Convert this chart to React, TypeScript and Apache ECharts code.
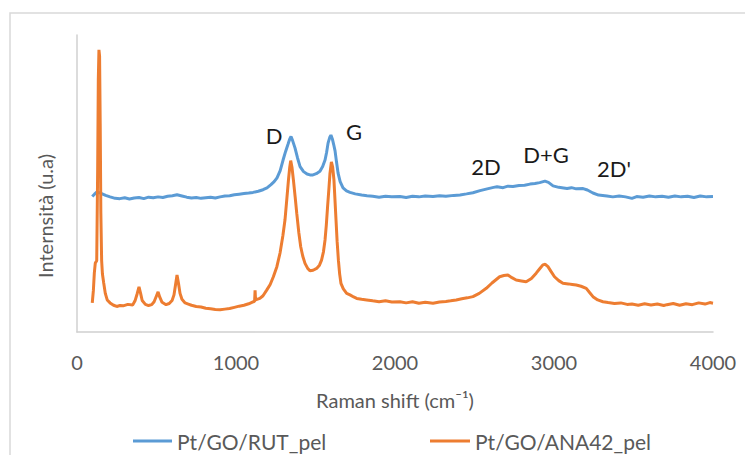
import React, { useEffect, useRef } from "react";
import * as echarts from "echarts";

const seriesNames = ["Pt/GO/RUT_pel", "Pt/GO/ANA42_pel"];
const xTicks = [0, 1000, 2000, 3000, 4000];

const rutData: [number, number][] = [
  [96,45.6],[110,46.4],[124,47.1],[140,46.9],[155,46.6],[180,46.0],[208,45.5],[240,45.0],[270,44.9],[300,45.2],
  [330,44.8],[360,45.1],[390,45.3],[420,44.9],[450,45.4],[480,45.2],[510,45.5],[540,45.3],[570,45.7],[600,45.9],
  [629,46.2],[660,45.8],[690,45.4],[720,45.1],[750,45.3],[780,45.0],[810,45.2],[840,45.4],[870,45.1],[900,45.5],
  [930,45.8],[960,45.9],[990,46.2],[1020,46.4],[1050,46.6],[1080,46.8],[1107,47.0],[1140,47.4],[1170,47.9],[1195,48.5],
  [1220,49.6],[1240,50.6],[1258,51.9],[1278,54.3],[1296,57.9],[1312,60.8],[1327,63.2],[1338,65.0],[1346,65.8],[1355,64.6],
  [1371,62.0],[1387,58.6],[1403,55.7],[1425,54.0],[1447,53.2],[1465,52.9],[1484,52.9],[1505,53.3],[1528,54.1],[1545,55.7],
  [1560,57.9],[1570,60.5],[1579,63.6],[1590,65.6],[1597,66.3],[1606,65.0],[1614,63.2],[1623,61.0],[1632,57.3],[1642,53.5],
  [1655,50.6],[1673,48.5],[1695,47.5],[1717,47.0],[1750,46.5],[1790,46.1],[1824,45.9],[1860,45.7],[1900,45.4],[1940,45.7],
  [1980,45.5],[2031,45.6],[2070,45.3],[2110,45.7],[2150,45.5],[2190,45.8],[2239,45.6],[2280,45.9],[2320,45.7],[2370,46.0],
  [2409,46.1],[2450,46.5],[2490,46.9],[2535,47.6],[2580,48.2],[2620,48.7],[2642,48.9],[2680,48.6],[2710,49.1],[2742,49.0],
  [2780,49.3],[2815,49.4],[2849,49.8],[2880,50.0],[2910,50.3],[2943,50.8],[2965,50.4],[2994,49.2],[3030,48.7],[3060,48.5],
  [3082,48.3],[3110,48.6],[3140,48.2],[3183,48.3],[3210,47.8],[3245,46.8],[3280,46.1],[3333,45.8],[3370,45.5],[3410,45.8],
  [3450,45.5],[3490,45.0],[3520,45.6],[3560,45.4],[3600,45.8],[3640,45.5],[3680,45.7],[3720,45.4],[3760,45.8],[3800,45.5],
  [3840,45.7],[3880,45.3],[3920,45.8],[3960,45.5],[4000,45.6]
];

const anaData: [number, number][] = [
  [96,9.8],[103,14.0],[109,19.9],[115,23.2],[124,24.0],[130,55],[134,85],[138,95],[142,93],[146,70],
  [150,40],[155,24],[160,19.5],[168,16.5],[178,13.0],[190,10.8],[208,9.8],[230,9.0],[250,8.6],[270,8.9],
  [290,8.8],[320,9.3],[350,9.1],[365,10.5],[378,12.8],[390,15.2],[400,13.0],[410,10.6],[430,9.3],[450,8.9],
  [470,9.2],[485,10.2],[497,11.8],[510,13.5],[520,11.8],[535,10.0],[560,9.2],[580,9.6],[598,10.6],[610,12.5],
  [620,16.0],[629,19.2],[638,16.5],[648,13.0],[660,11.0],[680,9.8],[700,9.4],[720,9.0],[750,8.6],[780,8.4],
  [810,8.0],[840,7.8],[870,7.6],[900,7.5],[930,7.7],[960,7.9],[990,8.3],[1020,8.7],[1050,9.0],[1080,9.5],
  [1110,10.2],[1117,10.3],[1120,14.0],[1123,10.8],[1150,11.3],[1170,12.2],[1193,14.1],[1215,16.0],[1235,18.6],[1257,22.0],
  [1277,26.6],[1295,32.5],[1308,37.7],[1320,45.0],[1330,51.2],[1338,55.5],[1344,57.7],[1352,55.5],[1361,51.2],[1372,45.5],
  [1382,40.0],[1395,33.5],[1407,28.7],[1420,25.5],[1434,23.1],[1450,21.5],[1465,20.6],[1485,20.8],[1507,21.4],[1525,22.5],
  [1538,24.2],[1550,27.0],[1560,31.0],[1568,36.0],[1576,42.2],[1584,48.0],[1591,53.4],[1600,57.3],[1608,55.5],[1616,51.2],
  [1622,45.0],[1629,37.7],[1636,30.5],[1644,24.2],[1652,19.5],[1660,16.4],[1675,14.5],[1696,13.0],[1717,12.5],[1740,11.8],
  [1759,11.3],[1790,11.0],[1822,10.8],[1860,10.5],[1900,10.2],[1940,10.5],[1980,10.1],[2031,10.2],[2070,9.8],[2110,10.2],
  [2150,9.7],[2190,10.0],[2239,9.7],[2280,10.1],[2320,10.3],[2350,10.5],[2385,10.8],[2420,11.2],[2455,11.5],[2490,11.9],
  [2530,13.0],[2574,14.7],[2610,16.5],[2658,18.6],[2685,19.0],[2710,19.2],[2735,18.3],[2762,17.5],[2795,17.2],[2825,16.9],
  [2858,18.0],[2888,19.8],[2910,21.3],[2930,22.6],[2945,22.8],[2962,22.0],[2980,20.5],[3003,18.6],[3030,17.3],[3056,16.4],
  [3090,16.2],[3115,16.0],[3140,15.8],[3170,15.4],[3203,14.7],[3225,13.2],[3245,11.9],[3275,10.8],[3308,10.2],[3340,9.9],
  [3380,9.6],[3420,9.8],[3460,9.3],[3490,9.4],[3530,9.0],[3570,9.5],[3610,9.1],[3650,9.4],[3690,8.9],[3710,9.2],
  [3750,9.6],[3790,9.0],[3830,9.5],[3870,9.2],[3910,9.8],[3950,9.4],[3980,9.9],[4000,9.7]
];

const peakLabels = ["D", "G", "2D", "D+G", "2D'"];
const peakLabelPos: [number, number][] = [[274, 135], [354, 131], [486, 166], [546, 154], [614, 168]];

const FONT = "Lato";
const GREY = "#595959";

export default function App() {
  const ref = useRef<HTMLDivElement>(null);
  useEffect(() => {
    document.body.style.margin = "0";
    const chart = echarts.init(ref.current!, null, { renderer: "svg" });
    const legendText = { color: GREY, fontFamily: FONT, fontSize: 21, lineHeight: 22 };
    chart.setOption({
      animation: false,
      backgroundColor: "#ffffff",
      grid: { left: 77, right: 32, top: 35, bottom: 123, containLabel: false },
      xAxis: {
        type: "value",
        min: 0,
        max: 4000,
        interval: 1000,
        axisLine: { show: true, lineStyle: { color: "#d0d0d0", width: 1.5 } },
        axisTick: { show: false },
        splitLine: { show: false },
        axisLabel: {
          color: GREY,
          fontFamily: FONT,
          fontSize: 20,
          margin: 20,
          formatter: (v: number) => (xTicks.includes(v) ? String(v) : ""),
        },
        name: "Raman shift (cm⁻¹)",
        nameLocation: "middle",
        nameGap: 58,
        nameTextStyle: { color: GREY, fontFamily: FONT, fontSize: 20 },
      },
      yAxis: {
        type: "value",
        min: 0,
        max: 100,
        axisLine: { show: true, lineStyle: { color: "#d0d0d0", width: 1.5 } },
        axisTick: { show: false },
        axisLabel: { show: false },
        splitLine: { show: false },
      },
      legend: [
        {
          data: [seriesNames[0]],
          left: 133,
          top: 430,
          padding: 0,
          icon: "rect",
          itemWidth: 39,
          itemHeight: 3,
          textStyle: legendText,
        },
        {
          data: [seriesNames[1]],
          left: 430,
          top: 430,
          padding: 0,
          icon: "rect",
          itemWidth: 40,
          itemHeight: 3,
          textStyle: legendText,
        },
      ],
      graphic: [
        {
          type: "rect",
          shape: { x: 10, y: 13, width: 800, height: 600 },
          style: { fill: "none", stroke: "#d9d9d9", lineWidth: 1.5 },
          silent: true,
        },
        {
          type: "text",
          x: 45,
          y: 216,
          rotation: Math.PI / 2,
          style: {
            text: "Internsità (u.a)",
            fill: GREY,
            font: `20px ${FONT}`,
            align: "center",
            verticalAlign: "middle",
          },
        },
        ...peakLabels.map((t, i) => ({
          type: "text",
          x: peakLabelPos[i][0],
          y: peakLabelPos[i][1],
          style: {
            text: t,
            fill: "#1a1a1a",
            font: `22px ${FONT}`,
            align: "center",
            verticalAlign: "middle",
          },
        })),
      ],
      series: [
        {
          name: seriesNames[0],
          type: "line",
          data: rutData,
          showSymbol: false,
          symbol: "none",
          lineStyle: { color: "#5B9BD5", width: 3 },
          itemStyle: { color: "#5B9BD5" },
        },
        {
          name: seriesNames[1],
          type: "line",
          data: anaData,
          showSymbol: false,
          symbol: "none",
          lineStyle: { color: "#ED7D31", width: 3 },
          itemStyle: { color: "#ED7D31" },
        },
      ],
    });
    return () => chart.dispose();
  }, []);
  return <div ref={ref} style={{ width: 745, height: 455 }} />;
}
